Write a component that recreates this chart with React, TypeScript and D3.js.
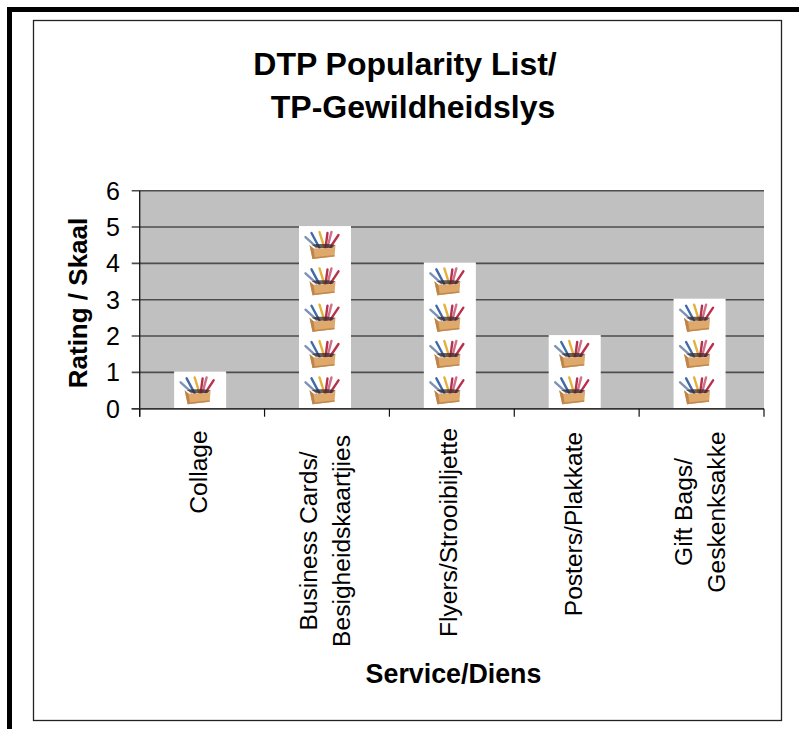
import React from "react";
import * as d3 from "d3";

const categories = ["Collage", "Business Cards/|Besigheidskaartjies", "Flyers/Strooibiljette", "Posters/Plakkate", "Gift Bags/|Geskenksakke"];
const ratings = [1, 5, 4, 2, 3];
const yTicks = [0, 1, 2, 3, 4, 5, 6];
const titleLines = ["DTP Popularity List/", "TP-Gewildheidslys"];
const yTitle = "Rating / Skaal";
const xTitle = "Service/Diens";
const pencilColors = ["#7d93b5", "#3f6aa8", "#e2b23c", "#b5324f", "#cf6f86", "#b8304a"];

const W = 799, H = 729;
const plot = { l: 139.7, r: 764, t: 190.7, b: 408.7 };
const labelMid = [472, 541, 532.5, 524, 512];
const FONT = "Liberation Sans, Arial, sans-serif";

function Icon({ cx, top }: { cx: number; top: number }) {
  const pencils = [
    [-6, 15, -17, 5], [-3, 16, -11, 1], [2, 16, -3, 0], [3, 16, 5, 1], [5, 15, 9, 0], [8, 15, 16, 3],
  ];
  return (
    <g transform={`translate(${cx},${top})`} filter="url(#soft)">
      {pencils.map((p, i) => (
        <line key={i} x1={p[0]} y1={p[1]} x2={p[2]} y2={p[3]} stroke={pencilColors[i]} strokeWidth={2.4} strokeLinecap="round" />
      ))}
      <path d="M-11,13 L-4,16 L10,16 L13,13 L6,12 L-6,12 Z" fill="#3a2a2a" opacity={0.75} />
      <path d="M-13,13 L-9,16.5 L10,16 L13,13 L12,24.5 L-10,27 Z" fill="#e0a96c" />
      <path d="M-13,13 L-10,27 L-7.5,26.7 L-9,16.5 Z" fill="#bd8549" />
      <path d="M-10,27 L12,24.5 L12,23 L-9,25.2 Z" fill="#c08a50" />
    </g>
  );
}

export default function App() {
  const y = d3.scaleLinear().domain([0, 6]).range([plot.b, plot.t]);
  const x = d3.scaleBand<number>().domain(d3.range(categories.length)).range([plot.l, plot.r]);
  const barW = 52;
  const edges = d3.range(categories.length + 1).map((i) => plot.l + i * x.step());

  return (
    <svg width={W} height={H} style={{ position: "absolute", left: 0, top: 0, background: "#fff" }} fontFamily={FONT}>
      <defs>
        <filter id="soft" x="-20%" y="-20%" width="140%" height="140%">
          <feGaussianBlur stdDeviation="0.45" />
        </filter>
      </defs>
      <path d={`M9.5,${H} V9.5 H${W}`} fill="none" stroke="#000" strokeWidth={5} />
      <rect x={33.5} y={20.5} width={748} height={700} fill="#fff" stroke="#222" strokeWidth={1.3} />

      {titleLines.map((t, i) => (
        <text key={t} x={i === 0 ? 405 : 413} y={75 + i * 43} textAnchor="middle" fontSize={32} fontWeight="bold" fill="#000">{t}</text>
      ))}

      <rect x={plot.l} y={plot.t} width={plot.r - plot.l} height={plot.b - plot.t} fill="#c0c0c0" />
      {yTicks.map((t) => (
        <line key={t} x1={plot.l - 8} x2={plot.r} y1={y(t)} y2={y(t)} stroke="#4d4d4d" strokeWidth={1.6} />
      ))}

      {ratings.map((v, i) => {
        const cx = (x(i) as number) + x.bandwidth() / 2 - 2;
        return (
          <g key={i}>
            <rect x={cx - barW / 2} y={y(v) - 1} width={barW} height={y(0) - y(v) + 0.5} fill="#fff" />
            {d3.range(v).map((k) => (
              <Icon key={k} cx={cx - 2.5} top={y(k + 1) + 5} />
            ))}
          </g>
        );
      })}

      <line x1={plot.l} x2={plot.l} y1={plot.t} y2={plot.b + 8} stroke="#111" strokeWidth={1.3} />
      <line x1={plot.l - 8} x2={plot.r} y1={plot.b} y2={plot.b} stroke="#333" strokeWidth={1.6} />
      {edges.map((e, i) => (
        <line key={i} x1={e} x2={e} y1={plot.b} y2={plot.b + 8} stroke="#111" strokeWidth={1.2} />
      ))}

      {yTicks.map((t) => (
        <text key={t} x={120} y={y(t) + 9} textAnchor="end" fontSize={25} fill="#000">{t}</text>
      ))}

      <text transform="translate(87,303) rotate(-90)" textAnchor="middle" fontSize={26} fontWeight="bold">{yTitle}</text>

      {categories.map((c, i) => {
        const cx = (x(i) as number) + x.bandwidth() / 2;
        const lines = c.split("|");
        return (
          <g key={c}>
            {lines.map((l, j) => (
              <text
                key={l}
                transform={`translate(${cx + (lines.length > 1 ? 6.5 + (j - 0.5) * 33 : 5)},${labelMid[i]}) rotate(-90)`}
                textAnchor="middle"
                fontSize={24.6}
                fill="#000"
              >{l}</text>
            ))}
          </g>
        );
      })}

      <text x={453.5} y={683} textAnchor="middle" fontSize={26.8} fontWeight="bold">{xTitle}</text>
    </svg>
  );
}
